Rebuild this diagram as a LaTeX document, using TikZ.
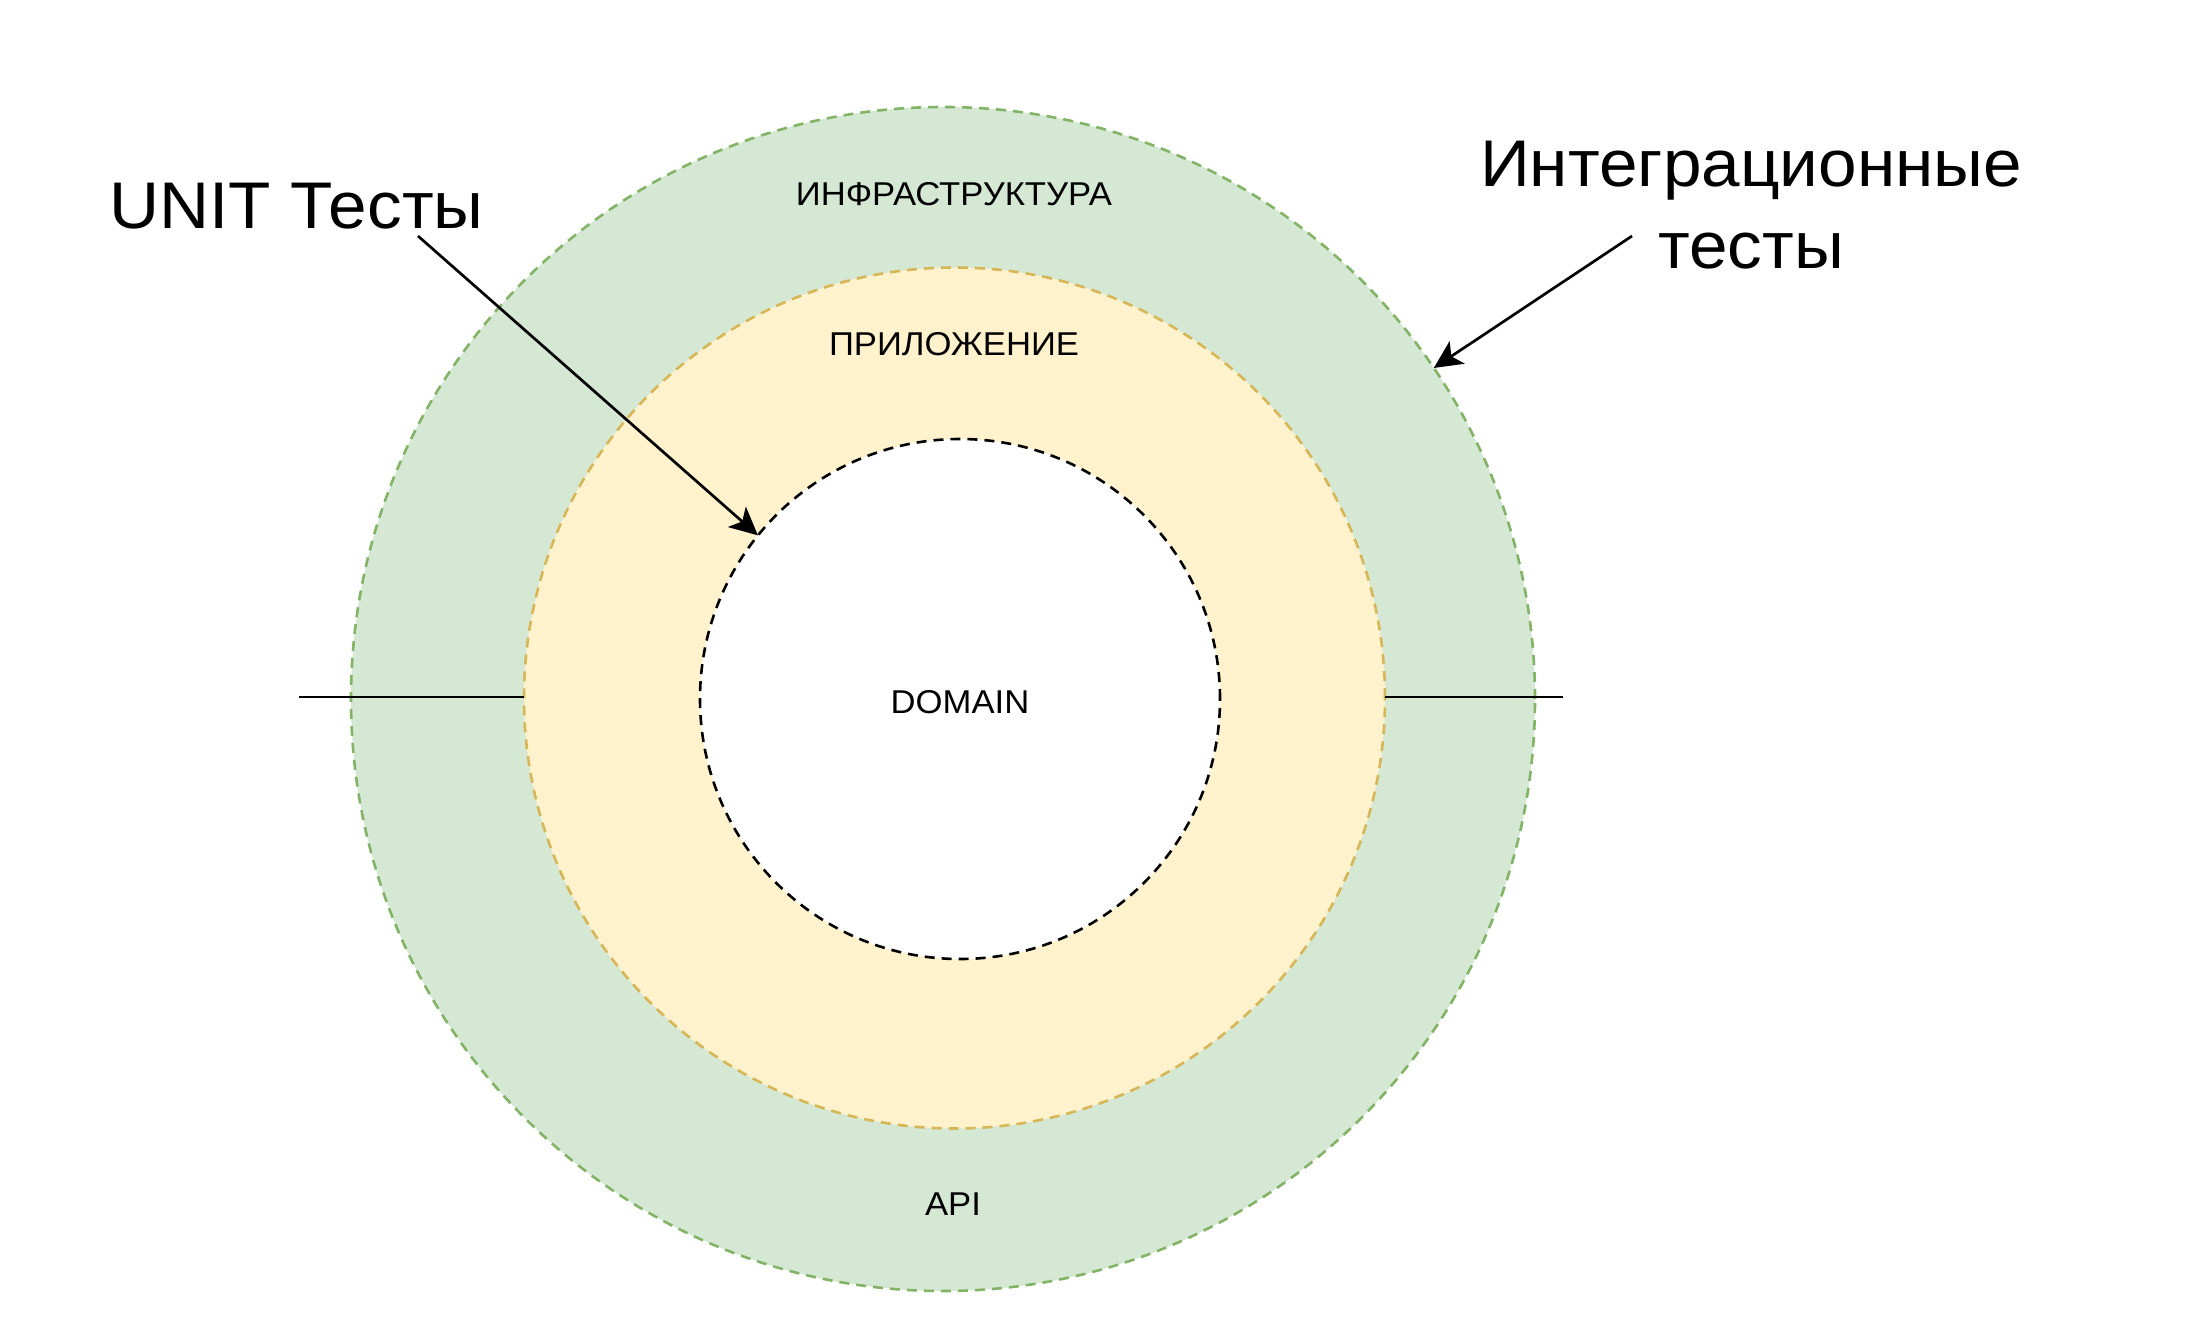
\documentclass[tikz,border=0pt]{standalone}
\usepackage{fontspec}
\setmainfont[FakeStretch=1.05]{Liberation Sans}
\usetikzlibrary{arrows.meta}
\definecolor{grfill}{HTML}{D5E8D4}
\definecolor{grline}{HTML}{82B366}
\definecolor{yefill}{HTML}{FFF2CC}
\definecolor{yeline}{HTML}{D6B656}
\begin{document}
\begin{tikzpicture}[x=1pt,y=-1pt,
 ring/.style={circle,inner sep=0pt,outer sep=0pt,line width=2.6pt,dash pattern=on 10pt off 7pt},
 small/.style={font=\fontsize{33}{38}\selectfont,inner sep=0pt,anchor=base},
 big/.style={font=\fontsize{66}{82}\selectfont,inner sep=0pt,align=center},
 conn/.style={line width=2.7pt,-{Stealth[length=28pt,width=27pt,inset=7pt]}},
 plainline/.style={line width=2.8pt}]
\useasboundingbox (0,0) rectangle (2186,1322);
\node[ring,draw=grline,fill=grfill,minimum size=1184pt] (outer) at (943,699) {};
\node[ring,draw=yeline,fill=yefill,minimum size=861pt] (mid) at (954.5,698) {};
\node[ring,draw=black,fill=white,minimum size=520pt] (inner) at (960,699) {};
\node[small] (infra) at (954,205) {ИНФРАСТРУКТУРА};
\node[small] (app) at (954,355) {ПРИЛОЖЕНИЕ};
\node[small] (domain) at (960,713) {DOMAIN};
\node[small] (api) at (953,1215) {API};
\node[big,anchor=base] (unit) at (296.5,228) {UNIT Тесты};
\node[big] (integ) at (1751,205.5) {Интеграционные\\тесты};
\coordinate (lstart) at (299,697);
\coordinate (rend) at (1563,697);
\draw[plainline] (lstart) -- (lstart -| mid.west);
\draw[plainline] (rend -| mid.east) -- (rend);
\coordinate (unitstart) at (418,236);
\coordinate (intstart) at (1632,236);
\draw[conn] (unitstart) -- (inner.141.8);
\draw[conn] (intstart) -- (outer.34);
\end{tikzpicture}
\end{document}
